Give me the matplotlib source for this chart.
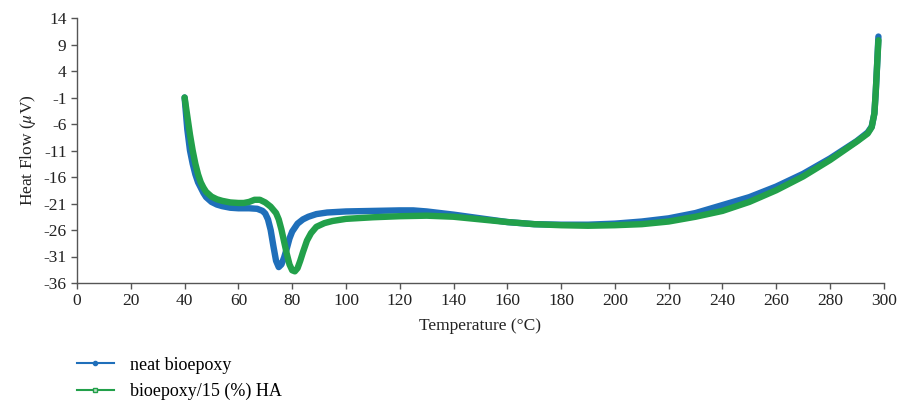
import matplotlib
matplotlib.use("Agg")
import matplotlib.pyplot as plt
from matplotlib.lines import Line2D

plt.rcParams['font.family'] = ['Liberation Serif', 'DejaVu Serif']
plt.rcParams['mathtext.fontset'] = 'stix'
plt.rcParams['axes.unicode_minus'] = False

# DSC traces, temperature in degC, heat flow in uV
temp_neat = [40, 41, 42, 43, 44, 45, 46, 47, 48, 50, 52, 54, 57, 60, 64, 67, 69, 70, 71,
             72, 73, 74, 75, 76, 77, 78, 79, 80, 82, 84, 86, 89, 93, 100, 110, 120, 125,
             130, 140, 150, 160, 170, 180, 190, 200, 210, 220, 230, 240, 250, 260, 270,
             280, 290, 294, 295.5, 296.5, 297, 297.5, 298]
hf_neat = [-1, -7, -11, -13.5, -15.5, -17, -18, -19, -19.8, -20.7, -21.2, -21.5, -21.8,
           -21.9, -21.9, -22, -22.4, -22.9, -24, -26, -29, -31.8, -33, -32.5, -31.2, -29.5,
           -27.6, -26.3, -24.8, -24, -23.5, -23, -22.7, -22.5, -22.4, -22.3, -22.3, -22.5,
           -23.1, -23.8, -24.5, -24.9, -25, -25, -24.8, -24.4, -23.8, -22.8, -21.3, -19.8,
           -17.8, -15.4, -12.5, -9.2, -7.6, -6.5, -4, 0, 5, 10.5]

temp_ha = [40, 41, 42, 43, 44, 45, 46, 47, 48, 50, 52, 54, 57, 60, 62, 64, 66, 68, 70,
           72, 74, 75, 76, 77, 78, 79, 80, 81, 82, 83, 84, 85.5, 87, 89, 92, 95, 100,
           110, 120, 130, 140, 150, 160, 170, 180, 190, 200, 210, 220, 230, 240, 250,
           260, 270, 280, 290, 294, 295.5, 296.5, 297, 297.5, 298]
hf_ha = [-1, -4.5, -8, -11, -13.5, -15.5, -17, -18, -18.8, -19.7, -20.2, -20.5, -20.8,
         -20.9, -20.9, -20.7, -20.3, -20.3, -20.8, -21.6, -22.8, -24, -25.9, -28.2, -30.5,
         -32.5, -33.6, -33.8, -33.2, -31.8, -30.2, -28, -26.6, -25.4, -24.7, -24.3, -23.9,
         -23.6, -23.4, -23.3, -23.5, -24, -24.5, -24.9, -25.1, -25.2, -25.1, -24.9, -24.4,
         -23.5, -22.4, -20.7, -18.5, -15.9, -12.8, -9.3, -7.8, -6.6, -4, 0, 5, 9.8]

labels = ["neat bioepoxy", "bioepoxy/15 (%) HA"]
colors = ["#1f6fba", "#22a04a"]

fig = plt.figure(figsize=(9, 4), dpi=100)
ax = fig.add_axes([0.0856, 0.2925, 0.8964, 0.6625])

ax.plot(temp_neat, hf_neat, c=colors[0], lw=4.6, solid_capstyle="round", solid_joinstyle="round")
ax.plot(temp_ha, hf_ha, c=colors[1], lw=4.6, solid_capstyle="round", solid_joinstyle="round")

ax.set_xlim(0, 300)
ax.set_ylim(-36, 14)
ax.set_xticks(range(0, 301, 20))
ax.set_yticks(range(-36, 15, 5))
for s in ["top", "right"]:
    ax.spines[s].set_visible(False)
for s in ["left", "bottom"]:
    ax.spines[s].set_color("#555555")
    ax.spines[s].set_linewidth(1)
ax.tick_params(colors="#555555", labelcolor="#222222", labelsize=12.5, length=4, width=1)
ax.set_xlabel("Temperature (°C)", fontsize=12.5, color="#222222", labelpad=6)
ax.set_ylabel(r"Heat Flow ($\mu$V)", fontsize=12.5, color="#222222", labelpad=4)

handles = [Line2D([], [], c=colors[0], lw=1.5, marker="o", ms=3),
           Line2D([], [], c=colors[1], lw=1.5, marker="s", ms=3, mfc="#bfe0c8")]
fig.legend(handles, labels, loc="upper left", bbox_to_anchor=(0.086, 0.108),
           frameon=False, fontsize=13, handlelength=2.0, labelspacing=0.5,
           borderaxespad=0, borderpad=0, handletextpad=0.9)

fig.savefig("out.png", dpi=100)
